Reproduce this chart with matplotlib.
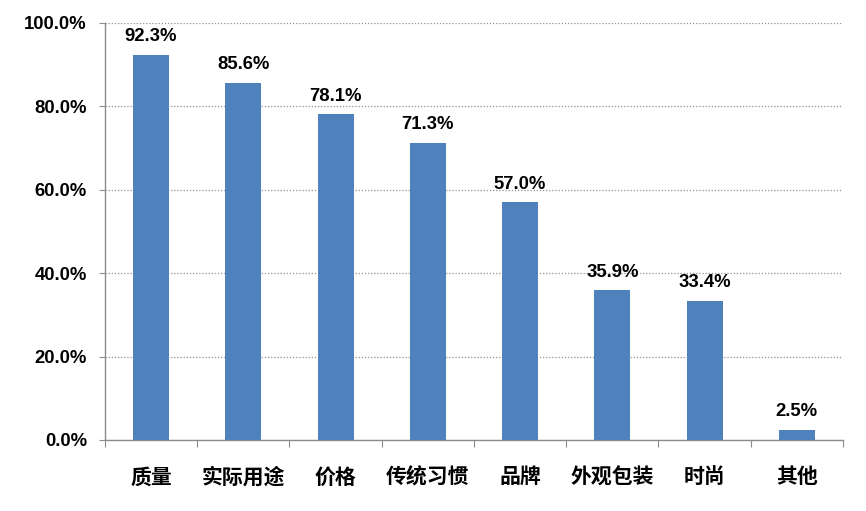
import matplotlib
matplotlib.use('Agg')
import matplotlib.pyplot as plt
import numpy as np
from matplotlib.ticker import FuncFormatter, MultipleLocator

categories = ['质量', '实际用途', '价格', '传统习惯', '品牌', '外观包装', '时尚', '其他']
values = [92.3, 85.6, 78.1, 71.3, 57.0, 35.9, 33.4, 2.5]

plt.rcParams['font.family'] = ['Liberation Sans', 'Noto Sans CJK SC', 'DejaVu Sans']

fig = plt.figure(figsize=(8.66, 5.11), dpi=100)
ax = fig.add_axes([0.1212, 0.139, 0.8522, 0.816])

x = np.arange(len(categories))
ax.bar(x, values, width=0.39, color='#4F81BD', zorder=3)

for xi, v in zip(x, values):
    ax.annotate(f'{v:.1f}%', (xi, v), xytext=(0, 7), textcoords='offset points',
                ha='center', va='bottom', fontsize=13.3, fontweight='bold', color='black')

ax.set_xlim(-0.5, len(categories) - 0.5)
ax.set_ylim(0, 100)
ax.yaxis.set_major_locator(MultipleLocator(20))
ax.yaxis.set_major_formatter(FuncFormatter(lambda v, p: f'{v:.1f}%'))
ax.grid(axis='y', linestyle=(0, (1, 1.5)), color='#909090', linewidth=0.9, zorder=0)

for s in ['top', 'right']:
    ax.spines[s].set_visible(False)
for s in ['left', 'bottom']:
    ax.spines[s].set_color('#8c8c8c')
    ax.spines[s].set_linewidth(1.0)

# category ticks sit between bars
ax.set_xticks(np.arange(len(categories) + 1) - 0.5)
ax.set_xticklabels([])
ax.set_xticks(x, minor=True)
ax.set_xticklabels(categories, minor=True, fontsize=15, fontweight='bold',
                   family=['Noto Sans CJK SC', 'DejaVu Sans'])
ax.tick_params(axis='x', which='major', length=5, color='#8c8c8c', direction='out')
ax.tick_params(axis='x', which='minor', length=0, pad=19)
ax.tick_params(axis='y', length=4, color='#8c8c8c', direction='out', pad=9)
for lbl in ax.get_yticklabels():
    lbl.set_fontsize(13.3)
    lbl.set_fontweight('bold')

fig.savefig('out.png', dpi=100)
